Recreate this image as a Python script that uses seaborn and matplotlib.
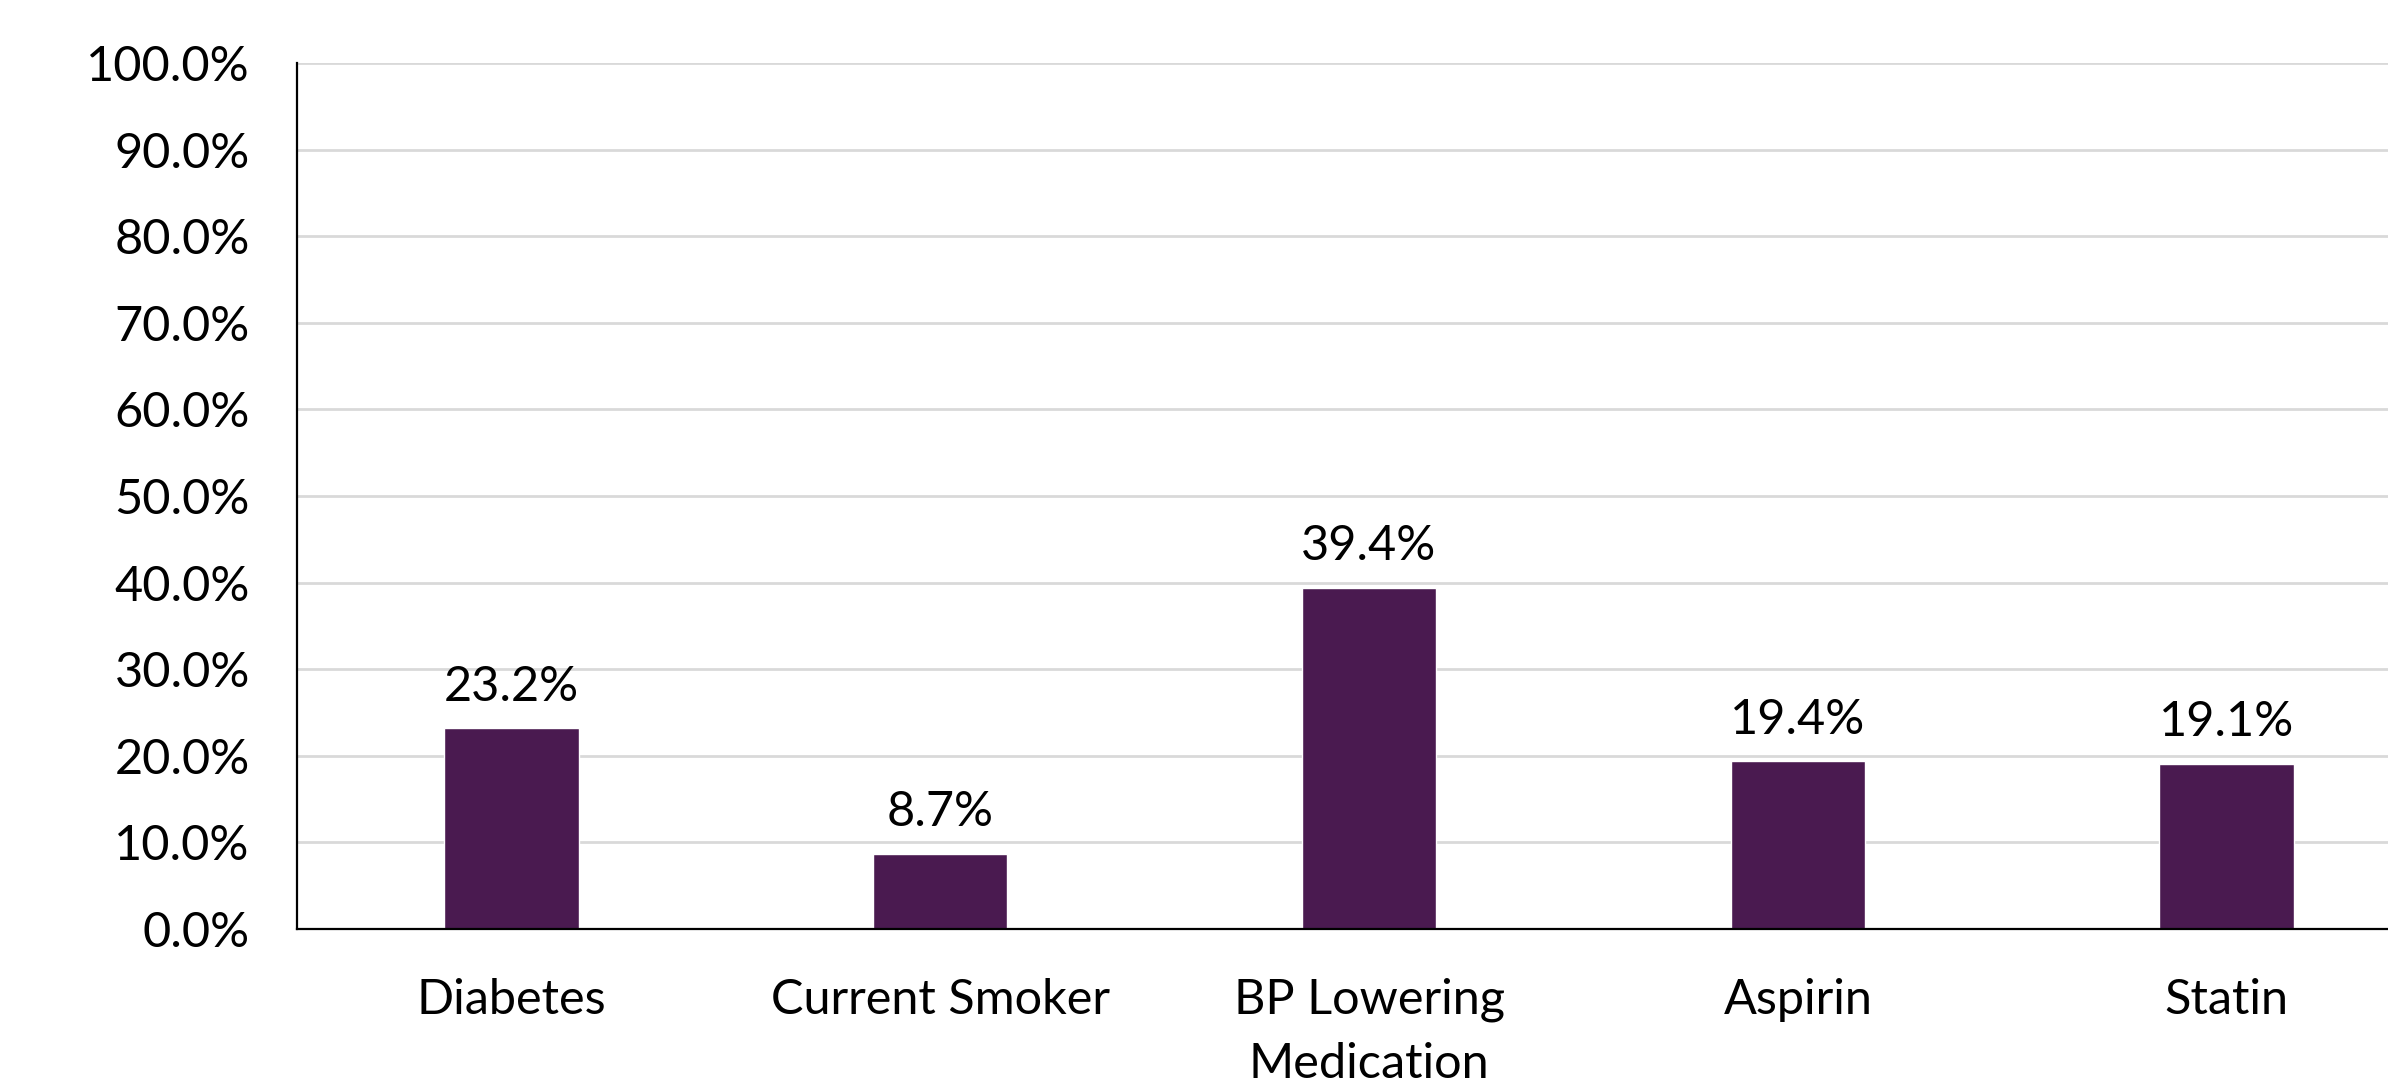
import matplotlib
matplotlib.use("Agg")
import matplotlib.pyplot as plt
import seaborn as sns
import pandas as pd
from matplotlib.ticker import FuncFormatter, MultipleLocator

# Prevalence of risk factors and medication use (%)
categories = ["Diabetes", "Current Smoker", "BP Lowering\nMedication", "Aspirin", "Statin"]
values = [23.2, 8.7, 39.4, 19.4, 19.1]

bar_color = "#4A1A50"
grid_color = "#D9D9D9"

sns.set_theme(style="white")
plt.rcParams["font.family"] = ["Lato", "DejaVu Sans"]

df = pd.DataFrame({"category": categories, "value": values})

fig = plt.figure(figsize=(23.88, 10.84), dpi=100)
fig.patch.set_facecolor("white")
# The plot area runs past the right edge of the canvas
ax = fig.add_axes([297 / 2388, 1 - 929 / 1084, (2441 - 297) / 2388, (929 - 63) / 1084])

sns.barplot(data=df, x="category", y="value", color=bar_color, width=0.313,
            saturation=1, ax=ax, zorder=3)

ax.set_xlim(-0.5, 4.5)
ax.set_ylim(0, 100)
ax.yaxis.set_major_locator(MultipleLocator(10))
ax.yaxis.set_major_formatter(FuncFormatter(lambda v, _: f"{v:.1f}%"))
ax.grid(axis="y", color=grid_color, linewidth=2, zorder=0)
ax.set_axisbelow(True)

for side in ("top", "right"):
    ax.spines[side].set_visible(False)
for side in ("left", "bottom"):
    ax.spines[side].set_color("black")
    ax.spines[side].set_linewidth(1.6)
    ax.spines[side].set_zorder(4)

ax.set_xlabel("")
ax.set_ylabel("")
ax.tick_params(axis="y", length=0, pad=34, labelsize=35, labelcolor="black")
ax.tick_params(axis="x", length=0, pad=35, labelsize=35, labelcolor="black")
for lbl in ax.get_xticklabels():
    lbl.set_linespacing(1.55)

ax.bar_label(ax.containers[0], labels=[f"{v:.1f}%" for v in values],
             padding=14, fontsize=35, color="black")

fig.savefig("out.png", dpi=100, facecolor="white")
